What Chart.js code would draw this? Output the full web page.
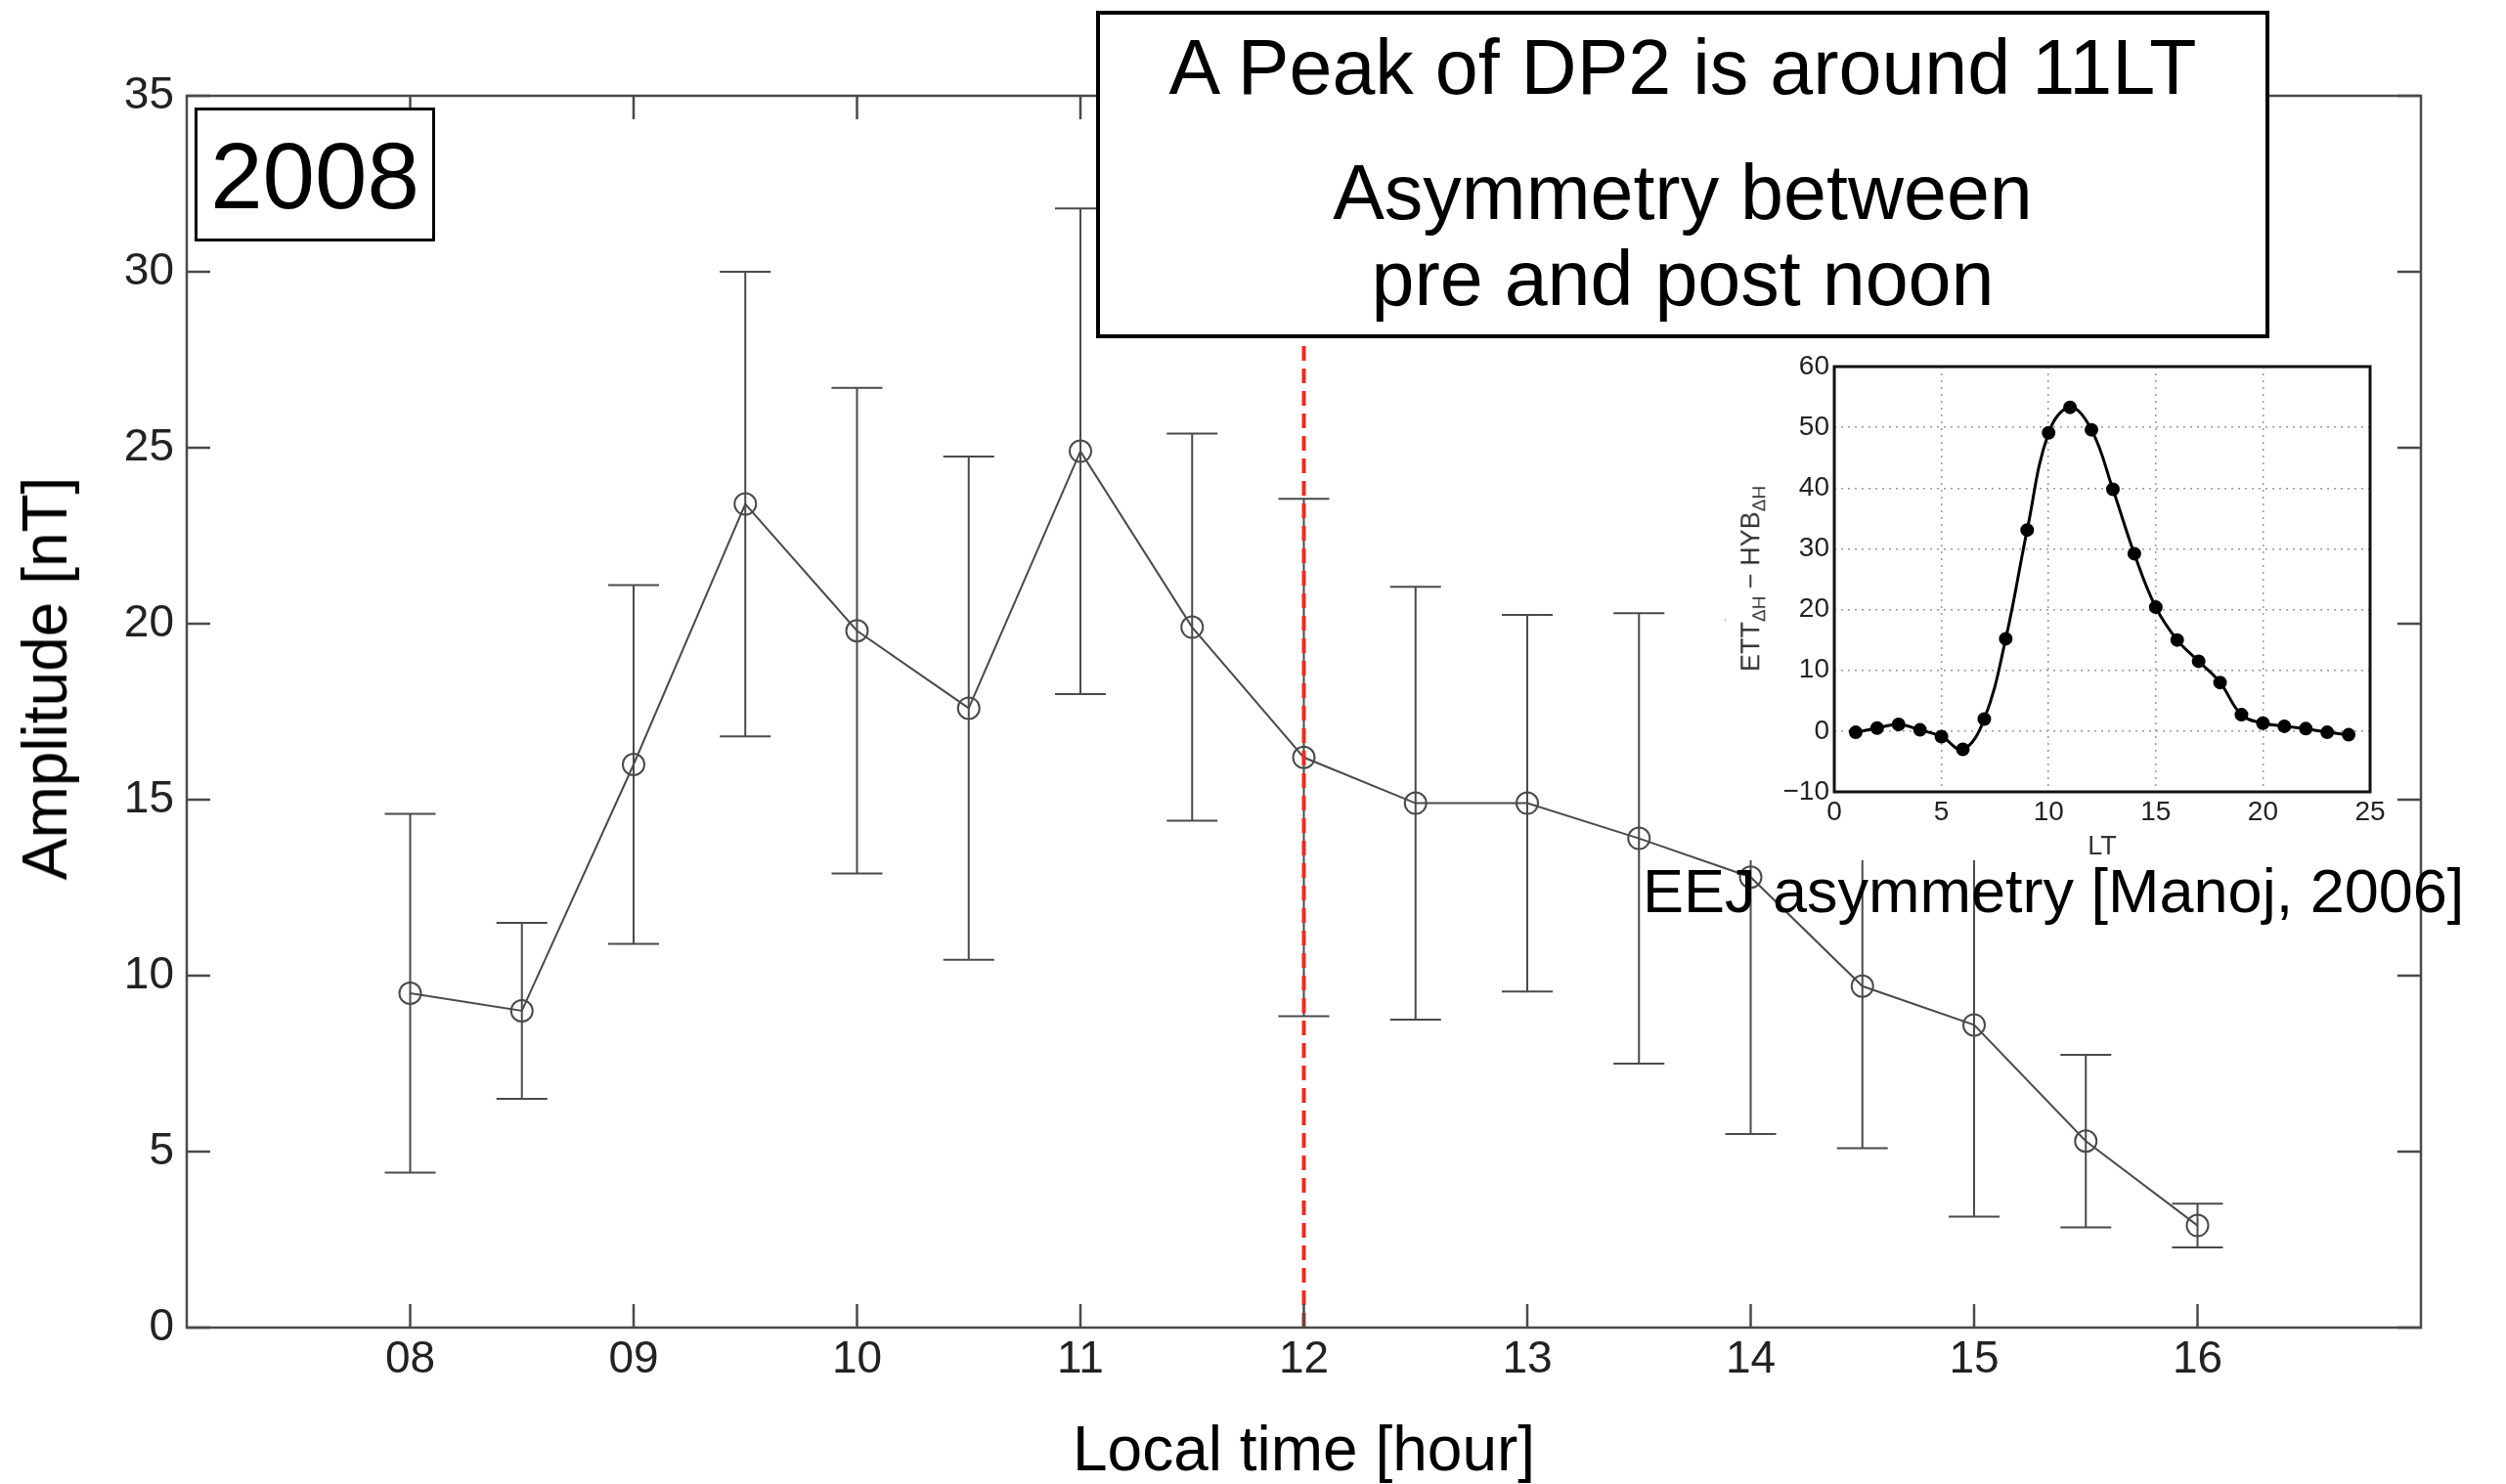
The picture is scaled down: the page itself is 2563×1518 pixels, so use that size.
<!DOCTYPE html>
<html>
<head>
<meta charset="utf-8">
<script src="https://cdn.jsdelivr.net/npm/chart.js@4"></script>
<style>
  body { margin: 0; background: #fff; }
  #wrap { position: relative; width: 2563px; height: 1518px; overflow: hidden; font-family: 'Liberation Sans', Arial, sans-serif; }
  canvas { position: absolute; }
  .note { position: absolute; color: #000; white-space: nowrap; line-height: 1; }
  .boxed { position: absolute; background: #fff; border: 4px solid #000; box-sizing: border-box; }
</style>
</head>
<body>
<div id="wrap">
  <canvas id="mainChart" width="2563" height="1518" style="left:0;top:0"></canvas>
  <canvas id="insetChart" width="685" height="530" style="left:1765px;top:350px;background:#fff"></canvas>

  <div class="note" style="left:46px;top:694px;font-size:64px;transform:translate(-50%,-50%) rotate(-90deg)">Amplitude [nT]</div>

  <div class="boxed" style="left:199px;top:110px;width:246px;height:137px;border-width:3px"></div>
  <div class="note" style="left:199px;width:246px;top:132px;text-align:center;font-size:96px">2008</div>

  <div class="boxed" style="left:1121px;top:11px;width:1200px;height:335px"></div>
  <div class="note" style="left:1121px;width:1200px;top:29px;text-align:center;font-size:79px">A Peak of DP2 is around 11LT</div>
  <div class="note" style="left:1121px;width:1200px;top:157px;text-align:center;font-size:79px">Asymmetry between</div>
  <div class="note" style="left:1121px;width:1200px;top:245px;text-align:center;font-size:79px">pre and post noon</div>

  <div class="note" style="left:1793px;top:592px;font-size:27px;color:#333;transform:translate(-50%,-50%) rotate(-90deg)">ETT<sub style="font-size:19px">ΔH</sub> − HYB<sub style="font-size:19px">ΔH</sub></div>
  <div class="note" style="left:1680px;top:880px;font-size:63px">EEJ asymmetry [Manoj, 2006]</div>
</div>

<script>
// DP2 amplitude, 2008
const localTime = [8, 8.5, 9, 9.5, 10, 10.5, 11, 11.5, 12, 12.5, 13, 13.5, 14, 14.5, 15, 15.5, 16];
const amplitude = [9.5, 9.0, 16.0, 23.4, 19.8, 17.6, 24.9, 19.9, 16.2, 14.9, 14.9, 13.9, 12.8, 9.7, 8.6, 5.3, 2.9];
const amplitudeErr = [5.1, 2.5, 5.1, 6.6, 6.9, 7.15, 6.9, 5.5, 7.35, 6.15, 5.35, 6.4, 7.3, 4.6, 5.45, 2.45, 0.62];
const hourTicks = [8, 9, 10, 11, 12, 13, 14, 15, 16];
const amplitudeTicks = [0, 5, 10, 15, 20, 25, 30, 35];
const noonMarker = 12;

// inset: EEJ asymmetry [Manoj, 2006]
const insetLT = [1, 2, 3, 4, 5, 6, 7, 8, 9, 10, 11, 12, 13, 14, 15, 16, 17, 18, 19, 20, 21, 22, 23, 24];
const insetDiff = [-0.2, 0.5, 1.1, 0.2, -0.9, -3.0, 2.0, 15.2, 33.1, 49.1, 53.3, 49.6, 39.8, 29.2, 20.4, 15.0, 11.5, 8.0, 2.7, 1.3, 0.8, 0.4, -0.2, -0.6];
const insetXTicks = [0, 5, 10, 15, 20, 25];
const insetYTicks = [-10, 0, 10, 20, 30, 40, 50, 60];

const fontFamily = "'Liberation Sans', Arial, sans-serif";

// box around the plot area with inward tick marks (matlab style)
const framePlugin = {
  id: 'frame',
  afterDraw(chart, args, opts) {
    const { ctx, chartArea: a } = chart;
    const x = chart.scales.x, y = chart.scales.y;
    ctx.save();
    ctx.strokeStyle = opts.color;
    ctx.lineWidth = opts.width;
    if (opts.tickLen) {
      ctx.beginPath();
      x.ticks.forEach(t => {
        const px = x.getPixelForValue(t.value);
        ctx.moveTo(px, a.bottom); ctx.lineTo(px, a.bottom - opts.tickLen);
        ctx.moveTo(px, a.top); ctx.lineTo(px, a.top + opts.tickLen);
      });
      y.ticks.forEach(t => {
        const py = y.getPixelForValue(t.value);
        ctx.moveTo(a.left, py); ctx.lineTo(a.left + opts.tickLen, py);
        ctx.moveTo(a.right, py); ctx.lineTo(a.right - opts.tickLen, py);
      });
      ctx.stroke();
    }
    ctx.strokeRect(a.left, a.top, a.right - a.left, a.bottom - a.top);
    ctx.restore();
  }
};

const errorBarPlugin = {
  id: 'errorBars',
  beforeDatasetsDraw(chart, args, opts) {
    const { ctx } = chart;
    const x = chart.scales.x, y = chart.scales.y;
    ctx.save();
    ctx.strokeStyle = opts.color;
    ctx.lineWidth = opts.width;
    ctx.beginPath();
    localTime.forEach((t, i) => {
      const px = x.getPixelForValue(t);
      const top = y.getPixelForValue(amplitude[i] + amplitudeErr[i]);
      const bot = y.getPixelForValue(amplitude[i] - amplitudeErr[i]);
      ctx.moveTo(px, top); ctx.lineTo(px, bot);
      ctx.moveTo(px - opts.cap, top); ctx.lineTo(px + opts.cap, top);
      ctx.moveTo(px - opts.cap, bot); ctx.lineTo(px + opts.cap, bot);
    });
    ctx.stroke();
    ctx.restore();
  }
};

Chart.defaults.font.family = fontFamily;

// Main chart
const mainCtx = document.getElementById('mainChart').getContext('2d');
const mainChart = new Chart(mainCtx, {
  type: 'line',
  data: {
    datasets: [{
      label: 'noon',
      data: [{ x: noonMarker, y: amplitudeTicks[0] }, { x: noonMarker, y: amplitudeTicks[amplitudeTicks.length - 1] }],
      borderColor: '#ee2b1c',
      borderWidth: 4,
      borderDash: [15, 8],
      pointRadius: 0,
      order: 0
    }, {
      label: 'Amplitude',
      data: localTime.map((t, i) => ({ x: t, y: amplitude[i] })),
      borderColor: '#4a4a4a',
      borderWidth: 2,
      pointRadius: 11,
      pointBorderWidth: 2,
      pointBackgroundColor: 'rgba(0,0,0,0)',
      pointBorderColor: '#4a4a4a',
      tension: 0,
      order: 1
    }]
  },
  plugins: [errorBarPlugin, framePlugin],
  options: {
    responsive: false,
    animation: false,
    devicePixelRatio: 1,
    layout: { padding: { top: 98, right: 87, left: 0, bottom: 0 } },
    plugins: {
      legend: { display: false },
      tooltip: { enabled: false },
      frame: { color: '#4a4a4a', width: 2.5, tickLen: 24 },
      errorBars: { color: '#4a4a4a', width: 2, cap: 26 }
    },
    scales: {
      x: {
        type: 'linear',
        min: 7,
        max: 17,
        afterBuildTicks: scale => { scale.ticks = hourTicks.map(v => ({ value: v })); },
        afterFit: scale => { scale.height = 160; },
        grid: { display: false, drawTicks: false },
        border: { display: false },
        ticks: {
          padding: 6,
          color: '#222',
          font: { size: 46 },
          maxRotation: 0,
          callback: v => String(v).padStart(2, '0')
        },
        title: {
          display: true,
          text: 'Local time [hour]',
          color: '#000',
          font: { size: 64, lineHeight: 1 },
          padding: { top: -4, bottom: 0 }
        }
      },
      y: {
        min: 0,
        max: 35,
        afterBuildTicks: scale => { scale.ticks = amplitudeTicks.map(v => ({ value: v })); },
        afterFit: scale => { scale.width = 191; },
        grid: { display: false, drawTicks: false },
        border: { display: false },
        ticks: { padding: 13, color: '#222', font: { size: 46 } }
      }
    }
  }
});

// Inset chart
const insetCtx = document.getElementById('insetChart').getContext('2d');
const insetChart = new Chart(insetCtx, {
  type: 'line',
  data: {
    datasets: [{
      label: 'ETT - HYB',
      data: insetLT.map((t, i) => ({ x: t, y: insetDiff[i] })),
      borderColor: '#000',
      borderWidth: 3,
      pointRadius: 5.5,
      pointBackgroundColor: '#000',
      pointBorderColor: '#000',
      tension: 0.4
    }]
  },
  plugins: [framePlugin],
  options: {
    responsive: false,
    animation: false,
    devicePixelRatio: 1,
    layout: { padding: { top: 25, right: 26, left: 0, bottom: 0 } },
    plugins: {
      legend: { display: false },
      tooltip: { enabled: false },
      frame: { color: '#111', width: 3, tickLen: 0 }
    },
    scales: {
      x: {
        type: 'linear',
        min: 0,
        max: 25,
        afterBuildTicks: scale => { scale.ticks = insetXTicks.map(v => ({ value: v })); },
        afterFit: scale => { scale.height = 70; },
        grid: { color: '#999', lineWidth: 1.5, drawTicks: false },
        border: { display: false, dash: [2, 5] },
        ticks: { padding: 4, color: '#222', font: { size: 28 }, maxRotation: 0 },
        title: {
          display: true,
          text: 'LT',
          color: '#333',
          font: { size: 27, lineHeight: 1 },
          padding: { top: 9, bottom: 0 }
        }
      },
      y: {
        min: -10,
        max: 60,
        afterBuildTicks: scale => { scale.ticks = insetYTicks.map(v => ({ value: v })); },
        afterFit: scale => { scale.width = 111; },
        grid: { color: '#999', lineWidth: 1.5, drawTicks: false },
        border: { display: false, dash: [2, 5] },
        ticks: {
          padding: 5,
          color: '#222',
          font: { size: 28 },
          callback: v => v < 0 ? '\u2212' + Math.abs(v) : String(v)
        }
      }
    }
  }
});
</script>
</body>
</html>
